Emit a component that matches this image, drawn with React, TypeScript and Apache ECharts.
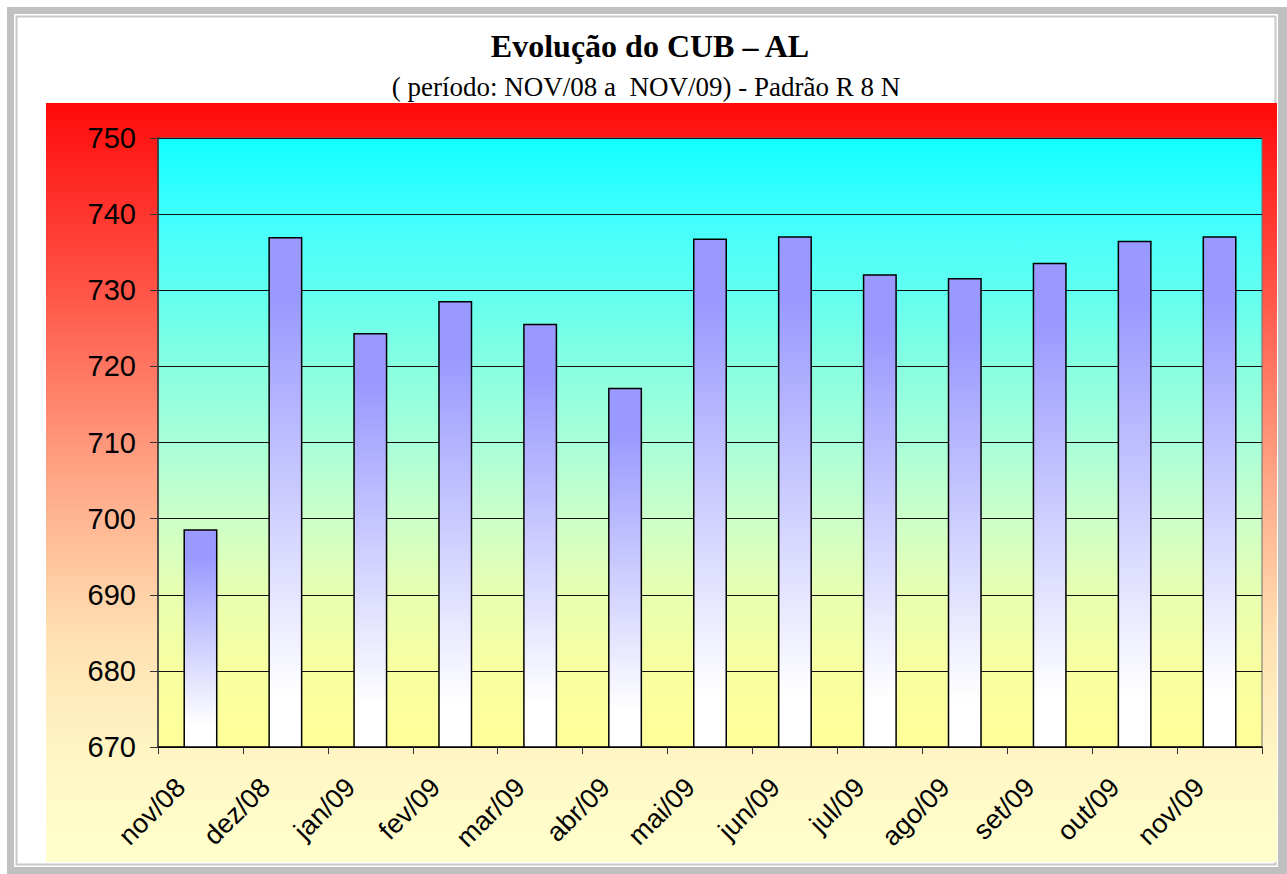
import React, { useEffect, useRef } from "react";
import * as echarts from "echarts";

const categories = ["nov/08", "dez/08", "jan/09", "fev/09", "mar/09", "abr/09", "mai/09", "jun/09", "jul/09", "ago/09", "set/09", "out/09", "nov/09"];
const cubValues = [698.6, 737.0, 724.4, 728.6, 725.6, 717.2, 736.8, 737.1, 732.1, 731.6, 733.6, 736.5, 737.1];
const titleText = "Evolução do CUB – AL";
const subtitleText = "( período: NOV/08 a  NOV/09) - Padrão R 8 N";
const yMin = 670;
const yMax = 750;
const yStep = 10;

export default function App() {
  const ref = useRef<HTMLDivElement>(null);
  useEffect(() => {
    if (!ref.current) return;
    const chart = echarts.init(ref.current, null, { renderer: "svg" });
    const lg = (stops: [number, string][]) =>
      new echarts.graphic.LinearGradient(0, 0, 0, 1, stops.map(([offset, color]) => ({ offset, color })));
    chart.setOption({
      animation: false,
      backgroundColor: "#ffffff",
      graphic: [
        { type: "rect", z: -20, shape: { x: 7, y: 7, width: 1300, height: 900 }, style: { fill: "#c0c0c0" } },
        { type: "rect", z: -19, shape: { x: 14, y: 14, width: 1264, height: 853 }, style: { fill: "#ffffff" } },
        { type: "rect", z: -18, shape: { x: 16.5, y: 16.5, width: 1259, height: 848 }, style: { fill: "none", stroke: "#c8c8c8", lineWidth: 2 } },
        {
          type: "rect", z: -17, shape: { x: 46, y: 103, width: 1231, height: 759 },
          style: { fill: lg([[0, "#ff0a0a"], [0.25, "#ff5548"], [0.5, "#ffa888"], [0.7, "#ffe0b2"], [0.88, "#fff8c6"], [1, "#ffffcc"]]) },
        },
        { type: "text", z: 10, x: 650, y: 46, style: { text: titleText, fontFamily: "Liberation Serif", fontWeight: "bold", fontSize: 32, fill: "#000", align: "center", verticalAlign: "middle" } },
        { type: "text", z: 10, x: 646, y: 87, style: { text: subtitleText, fontFamily: "Liberation Serif", fontSize: 27, fill: "#000", align: "center", verticalAlign: "middle" } },
      ],
      grid: {
        left: 158, top: 138, width: 1104, height: 609,
        show: true,
        backgroundColor: lg([[0, "#11ffff"], [0.125, "#40ffff"], [0.25, "#60fff0"], [0.375, "#88ffe0"], [0.5, "#a8ffd8"], [0.625, "#ccffc8"], [0.75, "#e8ffb0"], [0.875, "#f8ffa0"], [1, "#ffff99"]]),
        borderColor: "#707070",
        borderWidth: 1,
        containLabel: false,
      },
      xAxis: {
        type: "category",
        data: categories,
        axisLine: { show: true, lineStyle: { color: "#000", width: 1.5 } },
        axisTick: { show: true, length: 7, interval: 0, lineStyle: { color: "#333" } },
        axisLabel: {
          interval: 0, rotate: 45, fontSize: 27, fontFamily: "Liberation Sans", color: "#000",
          margin: 16, padding: [0, 28, 0, 0],
        },
        splitLine: { show: false },
      },
      yAxis: {
        type: "value",
        min: yMin, max: yMax, interval: yStep,
        axisLine: { show: true, lineStyle: { color: "#333", width: 1.5 } },
        axisTick: { show: true, length: 8, lineStyle: { color: "#333" } },
        axisLabel: { fontSize: 29, fontFamily: "Liberation Sans", color: "#000", margin: 22 },
        splitLine: { show: true, lineStyle: { color: "#111", width: 1 } },
      },
      series: [
        {
          type: "bar",
          data: cubValues,
          barWidth: 34,
          itemStyle: {
            color: lg([[0, "#9999ff"], [0.12, "#9999ff"], [0.9, "#ffffff"], [1, "#ffffff"]]),
            borderColor: "#000",
            borderWidth: 1.5,
          },
        },
      ],
    });
    return () => chart.dispose();
  }, []);
  return <div ref={ref} style={{ position: "absolute", left: 0, top: 0, width: 1287, height: 874 }} />;
}
